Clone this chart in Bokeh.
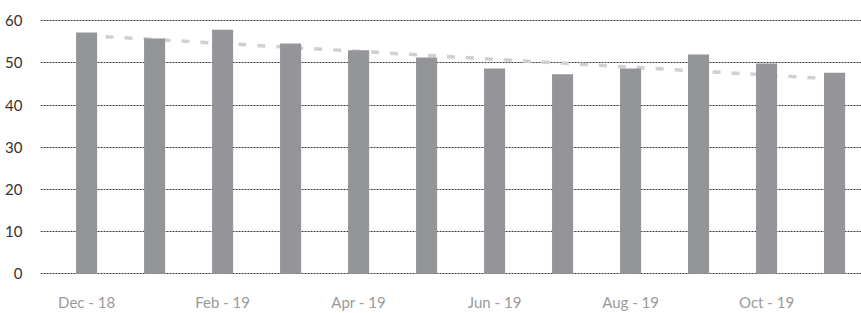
from bokeh.plotting import figure
from bokeh.models import FixedTicker, Range1d
from bokeh.embed import file_html
from bokeh.resources import INLINE

months = ["Dec - 18", "Jan - 19", "Feb - 19", "Mar - 19", "Apr - 19", "May - 19",
          "Jun - 19", "Jul - 19", "Aug - 19", "Sep - 19", "Oct - 19", "Nov - 19"]
values = [57.2, 55.8, 57.9, 54.6, 53.0, 51.3, 48.7, 47.3, 48.7, 52.0, 49.9, 47.7]
trend_months = [0, 11]
trend_values = [56.5, 46.2]
y_ticks = [0, 10, 20, 30, 40, 50, 60]
x_tick_idx = [0, 2, 4, 6, 8, 10]

xs = list(range(len(months)))

p = figure(width=861, height=313, output_backend="svg", toolbar_location=None,
           x_range=Range1d(-0.678, 11.396), y_range=Range1d(-1.589, 61.02),
           min_border_left=40, min_border_right=0, min_border_top=16, min_border_bottom=33)
p.outline_line_color = None
p.background_fill_color = "white"
p.border_fill_color = "white"

p.line(trend_months, trend_values, line_color="#cfd0d2", line_width=3.5, line_dash="8 11")
p.vbar(x=xs, top=values, width=0.31, bottom=0, fill_color="#939598", line_color=None)

p.xgrid.grid_line_color = None
p.ygrid.grid_line_color = "#3a3a3a"
p.ygrid.grid_line_dash = "2 1"
p.ygrid.grid_line_width = 1
p.ygrid.ticker = FixedTicker(ticks=y_ticks)

p.yaxis.ticker = FixedTicker(ticks=y_ticks)
p.yaxis.axis_line_color = None
p.yaxis.major_tick_line_color = None
p.yaxis.minor_tick_line_color = None
p.yaxis.major_label_standoff = 12
p.yaxis.major_label_text_font = "Lato"
p.yaxis.major_label_text_font_size = "15px"
p.yaxis.major_label_text_color = "#333333"

p.xaxis.ticker = FixedTicker(ticks=x_tick_idx)
p.xaxis.major_label_overrides = {i: months[i] for i in x_tick_idx}
p.xaxis.axis_line_color = None
p.xaxis.major_tick_line_color = None
p.xaxis.minor_tick_line_color = None
p.xaxis.major_label_standoff = 6
p.xaxis.major_label_text_font = "Lato"
p.xaxis.major_label_text_font_size = "15px"
p.xaxis.major_label_text_color = "#9a9a9a"

open("out.html", "w").write(file_html(p, INLINE))
